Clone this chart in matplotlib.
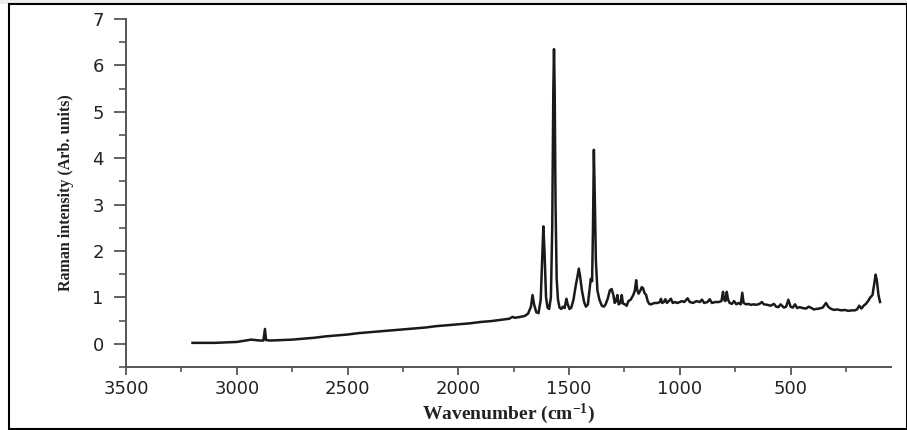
import matplotlib
matplotlib.use('Agg')
import matplotlib.pyplot as plt
from matplotlib.patches import Rectangle
from matplotlib.ticker import MultipleLocator

# spectrum (wavenumber cm-1, intensity)
wavenumber = [3200, 3150, 3100, 3050, 3000, 2960, 2935, 2915, 2895, 2880, 2873, 2868,
              2850, 2800, 2750, 2700, 2650, 2600, 2550, 2500, 2450, 2400, 2350, 2300,
              2250, 2200, 2150, 2100, 2050, 2000, 1950, 1900, 1850, 1800, 1770, 1755,
              1745, 1720, 1700, 1685, 1672, 1665, 1658, 1648, 1638, 1628, 1620, 1616,
              1611, 1604, 1597, 1590, 1582, 1576, 1571, 1568, 1565, 1561, 1556, 1550,
              1543, 1535, 1528, 1520, 1512, 1506, 1498, 1490, 1480, 1470, 1462, 1456,
              1450, 1442, 1432, 1424, 1415, 1408, 1402, 1396, 1392, 1388, 1384, 1379,
              1372, 1363, 1352, 1343, 1335, 1325, 1316, 1308, 1300, 1294, 1288, 1282,
              1276, 1268, 1262, 1257, 1248, 1240, 1232, 1222, 1210, 1203, 1197, 1192,
              1186, 1178, 1172, 1166, 1160, 1152, 1145, 1138, 1130, 1120, 1112, 1100,
              1090, 1085, 1080, 1072, 1065, 1058, 1050, 1040, 1032, 1022, 1012, 1000,
              990, 980, 965, 955, 940, 925, 910, 900, 890, 875, 865, 855,
              840, 825, 812, 805, 800, 794, 788, 782, 775, 765, 755, 745,
              735, 725, 718, 712, 700, 690, 680, 665, 655, 640, 630, 620,
              605, 590, 575, 565, 555, 545, 530, 520, 510, 500, 490, 480,
              470, 460, 445, 430, 418, 405, 395, 385, 370, 355, 340, 330,
              320, 305, 290, 270, 255, 240, 225, 210, 200, 190, 180, 170,
              160, 150, 140, 130, 122, 116, 110, 103, 96]
intensity = [0.02, 0.02, 0.02, 0.03, 0.04, 0.07, 0.09, 0.08, 0.07, 0.07, 0.32, 0.08,
             0.07, 0.08, 0.09, 0.11, 0.13, 0.16, 0.18, 0.20, 0.23, 0.25, 0.27, 0.29,
             0.31, 0.33, 0.35, 0.38, 0.40, 0.42, 0.44, 0.47, 0.49, 0.52, 0.54, 0.58,
             0.56, 0.58, 0.60, 0.65, 0.80, 1.05, 0.85, 0.68, 0.66, 0.95, 2.00, 2.53,
             2.00, 1.00, 0.78, 0.75, 1.00, 2.50, 5.50, 6.35, 5.50, 3.00, 1.40, 0.95,
             0.78, 0.75, 0.80, 0.77, 0.97, 0.85, 0.75, 0.78, 0.95, 1.25, 1.45, 1.62,
             1.45, 1.15, 0.90, 0.80, 0.85, 1.15, 1.40, 1.35, 2.50, 4.18, 3.20, 1.80,
             1.15, 0.95, 0.82, 0.80, 0.85, 0.98, 1.15, 1.18, 1.05, 0.88, 0.92, 1.05,
             0.85, 0.88, 1.05, 0.87, 0.85, 0.82, 0.92, 0.95, 1.05, 1.15, 1.37, 1.15,
             1.08, 1.15, 1.22, 1.20, 1.10, 1.05, 0.92, 0.86, 0.85, 0.87, 0.88, 0.88,
             0.90, 0.97, 0.88, 0.90, 0.96, 0.88, 0.92, 0.97, 0.88, 0.90, 0.88, 0.90,
             0.92, 0.90, 0.98, 0.90, 0.88, 0.92, 0.90, 0.95, 0.88, 0.90, 0.96, 0.88,
             0.90, 0.90, 0.92, 1.12, 0.95, 0.92, 1.12, 0.95, 0.88, 0.86, 0.92, 0.85,
             0.88, 0.85, 1.10, 0.88, 0.85, 0.86, 0.84, 0.85, 0.84, 0.86, 0.90, 0.85,
             0.84, 0.82, 0.86, 0.80, 0.79, 0.85, 0.78, 0.80, 0.95, 0.80, 0.78, 0.85,
             0.77, 0.79, 0.77, 0.76, 0.80, 0.77, 0.74, 0.75, 0.76, 0.78, 0.88, 0.80,
             0.76, 0.73, 0.74, 0.72, 0.73, 0.71, 0.72, 0.72, 0.74, 0.82, 0.76, 0.82,
             0.86, 0.92, 1.00, 1.05, 1.30, 1.49, 1.35, 1.05, 0.90]

x_ticks = [3500, 3000, 2500, 2000, 1500, 1000, 500]
y_ticks = [0, 1, 2, 3, 4, 5, 6, 7]

plt.rcParams['mathtext.fontset'] = 'custom'
plt.rcParams['mathtext.rm'] = 'Liberation Serif:bold'
plt.rcParams['mathtext.it'] = 'Liberation Serif:bold'
plt.rcParams['mathtext.bf'] = 'Liberation Serif:bold'

fig = plt.figure(figsize=(9.07, 4.30), dpi=100)
ax = fig.add_axes([0.139, 0.1465, 0.843, 0.8095])

ax.plot(wavenumber, intensity, color='#1a1a1a', lw=1.8)

ax.set_xlim(3500, 48)
ax.set_ylim(-0.5, 7)
ax.set_xticks(x_ticks)
ax.set_yticks(y_ticks)
ax.xaxis.set_minor_locator(MultipleLocator(250))
ax.yaxis.set_minor_locator(MultipleLocator(0.5))

for side in ['top', 'right']:
    ax.spines[side].set_visible(False)
for side in ['left', 'bottom']:
    ax.spines[side].set_color('#555555')
    ax.spines[side].set_linewidth(1.4)

ax.tick_params(axis='x', which='major', direction='out', length=6, width=1.3,
               color='#555555', labelsize=13, labelcolor='#222222', pad=3)
ax.tick_params(axis='x', which='minor', direction='out', length=3.5, width=1.2,
               color='#555555')
ax.tick_params(axis='y', which='major', direction='out', length=9, width=1.3,
               color='#555555', labelsize=13, labelcolor='#222222', pad=7)
ax.tick_params(axis='y', which='minor', direction='out', length=5, width=1.2,
               color='#555555')
for lab in ax.get_xticklabels() + ax.get_yticklabels():
    lab.set_family('DejaVu Sans')

ax.set_xlabel('Wavenumber (cm$^{-1}$)', family='Liberation Serif', fontweight='bold',
              fontsize=14, color='#222222', labelpad=3)
ax.set_ylabel('Raman intensity (Arb. units)', family='Liberation Serif',
              fontweight='bold', fontsize=11.5, color='#222222', labelpad=13)

# frame around the picture and faint band at the top
fig.patches.append(Rectangle((0, 0.99), 1, 0.01, transform=fig.transFigure,
                             facecolor='#ececec', edgecolor='none', zorder=0))
fig.patches.append(Rectangle((9 / 907, 1 / 430), 1 - 9 / 907, 1 - 5 / 430,
                             transform=fig.transFigure, facecolor='none',
                             edgecolor='black', lw=1.5, zorder=1))

fig.savefig('out.png', dpi=100)
